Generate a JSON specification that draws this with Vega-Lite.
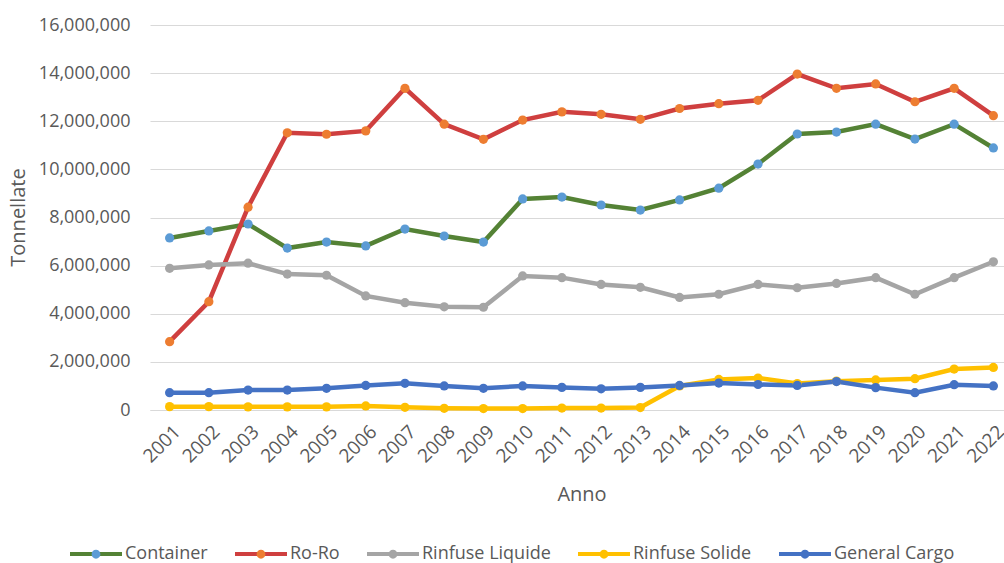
{
  "$schema": "https://vega.github.io/schema/vega-lite/v6.json",
  "width": 863,
  "height": 385,
  "autosize": {"type": "none"},
  "padding": {"left": 150, "top": 25, "right": 0, "bottom": 153},
  "background": "white",
  "config": {
    "view": {"stroke": null},
    "font": "Open Sans"
  },
  "data": {
    "values": [
      {"anno": "2001", "tipo": "Container", "valore": 7150000},
      {"anno": "2002", "tipo": "Container", "valore": 7440000},
      {"anno": "2003", "tipo": "Container", "valore": 7730000},
      {"anno": "2004", "tipo": "Container", "valore": 6730000},
      {"anno": "2005", "tipo": "Container", "valore": 6980000},
      {"anno": "2006", "tipo": "Container", "valore": 6820000},
      {"anno": "2007", "tipo": "Container", "valore": 7520000},
      {"anno": "2008", "tipo": "Container", "valore": 7230000},
      {"anno": "2009", "tipo": "Container", "valore": 6980000},
      {"anno": "2010", "tipo": "Container", "valore": 8770000},
      {"anno": "2011", "tipo": "Container", "valore": 8850000},
      {"anno": "2012", "tipo": "Container", "valore": 8520000},
      {"anno": "2013", "tipo": "Container", "valore": 8310000},
      {"anno": "2014", "tipo": "Container", "valore": 8730000},
      {"anno": "2015", "tipo": "Container", "valore": 9220000},
      {"anno": "2016", "tipo": "Container", "valore": 10220000},
      {"anno": "2017", "tipo": "Container", "valore": 11470000},
      {"anno": "2018", "tipo": "Container", "valore": 11550000},
      {"anno": "2019", "tipo": "Container", "valore": 11880000},
      {"anno": "2020", "tipo": "Container", "valore": 11260000},
      {"anno": "2021", "tipo": "Container", "valore": 11880000},
      {"anno": "2022", "tipo": "Container", "valore": 10890000},
      {"anno": "2001", "tipo": "Ro-Ro", "valore": 2840000},
      {"anno": "2002", "tipo": "Ro-Ro", "valore": 4500000},
      {"anno": "2003", "tipo": "Ro-Ro", "valore": 8430000},
      {"anno": "2004", "tipo": "Ro-Ro", "valore": 11520000},
      {"anno": "2005", "tipo": "Ro-Ro", "valore": 11460000},
      {"anno": "2006", "tipo": "Ro-Ro", "valore": 11600000},
      {"anno": "2007", "tipo": "Ro-Ro", "valore": 13370000},
      {"anno": "2008", "tipo": "Ro-Ro", "valore": 11880000},
      {"anno": "2009", "tipo": "Ro-Ro", "valore": 11250000},
      {"anno": "2010", "tipo": "Ro-Ro", "valore": 12050000},
      {"anno": "2011", "tipo": "Ro-Ro", "valore": 12390000},
      {"anno": "2012", "tipo": "Ro-Ro", "valore": 12290000},
      {"anno": "2013", "tipo": "Ro-Ro", "valore": 12080000},
      {"anno": "2014", "tipo": "Ro-Ro", "valore": 12530000},
      {"anno": "2015", "tipo": "Ro-Ro", "valore": 12730000},
      {"anno": "2016", "tipo": "Ro-Ro", "valore": 12870000},
      {"anno": "2017", "tipo": "Ro-Ro", "valore": 13960000},
      {"anno": "2018", "tipo": "Ro-Ro", "valore": 13370000},
      {"anno": "2019", "tipo": "Ro-Ro", "valore": 13550000},
      {"anno": "2020", "tipo": "Ro-Ro", "valore": 12810000},
      {"anno": "2021", "tipo": "Ro-Ro", "valore": 13370000},
      {"anno": "2022", "tipo": "Ro-Ro", "valore": 12230000},
      {"anno": "2001", "tipo": "Rinfuse Liquide", "valore": 5890000},
      {"anno": "2002", "tipo": "Rinfuse Liquide", "valore": 6030000},
      {"anno": "2003", "tipo": "Rinfuse Liquide", "valore": 6100000},
      {"anno": "2004", "tipo": "Rinfuse Liquide", "valore": 5650000},
      {"anno": "2005", "tipo": "Rinfuse Liquide", "valore": 5600000},
      {"anno": "2006", "tipo": "Rinfuse Liquide", "valore": 4740000},
      {"anno": "2007", "tipo": "Rinfuse Liquide", "valore": 4460000},
      {"anno": "2008", "tipo": "Rinfuse Liquide", "valore": 4290000},
      {"anno": "2009", "tipo": "Rinfuse Liquide", "valore": 4270000},
      {"anno": "2010", "tipo": "Rinfuse Liquide", "valore": 5570000},
      {"anno": "2011", "tipo": "Rinfuse Liquide", "valore": 5500000},
      {"anno": "2012", "tipo": "Rinfuse Liquide", "valore": 5220000},
      {"anno": "2013", "tipo": "Rinfuse Liquide", "valore": 5100000},
      {"anno": "2014", "tipo": "Rinfuse Liquide", "valore": 4680000},
      {"anno": "2015", "tipo": "Rinfuse Liquide", "valore": 4810000},
      {"anno": "2016", "tipo": "Rinfuse Liquide", "valore": 5220000},
      {"anno": "2017", "tipo": "Rinfuse Liquide", "valore": 5080000},
      {"anno": "2018", "tipo": "Rinfuse Liquide", "valore": 5260000},
      {"anno": "2019", "tipo": "Rinfuse Liquide", "valore": 5500000},
      {"anno": "2020", "tipo": "Rinfuse Liquide", "valore": 4810000},
      {"anno": "2021", "tipo": "Rinfuse Liquide", "valore": 5500000},
      {"anno": "2022", "tipo": "Rinfuse Liquide", "valore": 6160000},
      {"anno": "2001", "tipo": "Rinfuse Solide", "valore": 140000},
      {"anno": "2002", "tipo": "Rinfuse Solide", "valore": 140000},
      {"anno": "2003", "tipo": "Rinfuse Solide", "valore": 130000},
      {"anno": "2004", "tipo": "Rinfuse Solide", "valore": 130000},
      {"anno": "2005", "tipo": "Rinfuse Solide", "valore": 130000},
      {"anno": "2006", "tipo": "Rinfuse Solide", "valore": 170000},
      {"anno": "2007", "tipo": "Rinfuse Solide", "valore": 110000},
      {"anno": "2008", "tipo": "Rinfuse Solide", "valore": 70000},
      {"anno": "2009", "tipo": "Rinfuse Solide", "valore": 60000},
      {"anno": "2010", "tipo": "Rinfuse Solide", "valore": 60000},
      {"anno": "2011", "tipo": "Rinfuse Solide", "valore": 80000},
      {"anno": "2012", "tipo": "Rinfuse Solide", "valore": 80000},
      {"anno": "2013", "tipo": "Rinfuse Solide", "valore": 100000},
      {"anno": "2014", "tipo": "Rinfuse Solide", "valore": 1000000},
      {"anno": "2015", "tipo": "Rinfuse Solide", "valore": 1270000},
      {"anno": "2016", "tipo": "Rinfuse Solide", "valore": 1330000},
      {"anno": "2017", "tipo": "Rinfuse Solide", "valore": 1100000},
      {"anno": "2018", "tipo": "Rinfuse Solide", "valore": 1200000},
      {"anno": "2019", "tipo": "Rinfuse Solide", "valore": 1250000},
      {"anno": "2020", "tipo": "Rinfuse Solide", "valore": 1300000},
      {"anno": "2021", "tipo": "Rinfuse Solide", "valore": 1700000},
      {"anno": "2022", "tipo": "Rinfuse Solide", "valore": 1770000},
      {"anno": "2001", "tipo": "General Cargo", "valore": 720000},
      {"anno": "2002", "tipo": "General Cargo", "valore": 720000},
      {"anno": "2003", "tipo": "General Cargo", "valore": 830000},
      {"anno": "2004", "tipo": "General Cargo", "valore": 830000},
      {"anno": "2005", "tipo": "General Cargo", "valore": 900000},
      {"anno": "2006", "tipo": "General Cargo", "valore": 1020000},
      {"anno": "2007", "tipo": "General Cargo", "valore": 1110000},
      {"anno": "2008", "tipo": "General Cargo", "valore": 1000000},
      {"anno": "2009", "tipo": "General Cargo", "valore": 900000},
      {"anno": "2010", "tipo": "General Cargo", "valore": 1000000},
      {"anno": "2011", "tipo": "General Cargo", "valore": 940000},
      {"anno": "2012", "tipo": "General Cargo", "valore": 880000},
      {"anno": "2013", "tipo": "General Cargo", "valore": 940000},
      {"anno": "2014", "tipo": "General Cargo", "valore": 1020000},
      {"anno": "2015", "tipo": "General Cargo", "valore": 1120000},
      {"anno": "2016", "tipo": "General Cargo", "valore": 1060000},
      {"anno": "2017", "tipo": "General Cargo", "valore": 1020000},
      {"anno": "2018", "tipo": "General Cargo", "valore": 1180000},
      {"anno": "2019", "tipo": "General Cargo", "valore": 930000},
      {"anno": "2020", "tipo": "General Cargo", "valore": 720000},
      {"anno": "2021", "tipo": "General Cargo", "valore": 1050000},
      {"anno": "2022", "tipo": "General Cargo", "valore": 1000000}
    ]
  },
  "layer": [
    {
      "mark": {"type": "line", "strokeWidth": 4.5},
      "encoding": {
        "x": {
          "field": "anno", "type": "ordinal",
          "scale": {"type": "point", "padding": 0.5},
          "axis": {
            "title": "Anno", "labelAngle": -45, "labelFontSize": 19, "labelColor": "#595959",
            "ticks": false, "domain": true, "domainColor": "#D9D9D9", "domainWidth": 1,
            "labelPadding": 12, "labelOffset": 1, "grid": false,
            "titleFontSize": 20, "titleColor": "#595959", "titleFontWeight": "normal",
            "titleY": 84, "titleBaseline": "middle"
          }
        },
        "y": {
          "field": "valore", "type": "quantitative",
          "scale": {"domain": [0, 16000000], "nice": false},
          "axis": {
            "title": "Tonnellate",
            "values": [0, 2000000, 4000000, 6000000, 8000000, 10000000, 12000000, 14000000, 16000000],
            "format": ",.0f", "labelFontSize": 18, "labelColor": "#595959",
            "ticks": false, "domain": false, "labelPadding": 20,
            "grid": true, "gridColor": "#D9D9D9", "gridWidth": 1,
            "titleFontSize": 20, "titleColor": "#595959", "titleFontWeight": "normal",
            "titleX": -132, "titleY": 192, "titleAngle": -90, "titleBaseline": "middle", "titleAlign": "center"
          }
        },
        "color": {
          "field": "tipo", "type": "nominal",
          "scale": {
            "domain": ["Container", "Ro-Ro", "Rinfuse Liquide", "Rinfuse Solide", "General Cargo"],
            "range": ["#548235", "#CF3F3F", "#A5A5A5", "#FFC000", "#4472C4"]
          },
          "legend": {
            "orient": "none", "legendX": -82, "legendY": 501, "direction": "horizontal", "columns": 5,
            "title": null, "symbolType": "stroke", "symbolSize": 2704, "symbolStrokeWidth": 4,
            "labelFontSize": 18, "labelColor": "#595959", "labelOffset": 1, "columnPadding": 19
          }
        }
      }
    },
    {
      "mark": {"type": "point", "filled": true, "size": 85, "opacity": 1},
      "encoding": {
        "x": {"field": "anno", "type": "ordinal", "scale": {"type": "point", "padding": 0.5}},
        "y": {"field": "valore", "type": "quantitative"},
        "fill": {
          "field": "tipo", "type": "nominal",
          "sort": ["Container", "Ro-Ro", "Rinfuse Liquide", "Rinfuse Solide", "General Cargo"],
          "scale": {
            "range": ["#5B9BD5", "#ED7D31", "#A5A5A5", "#FFC000", "#4472C4"]
          },
          "legend": {
            "orient": "none", "legendX": -82, "legendY": 501, "direction": "horizontal", "columns": 5,
            "title": null,
            "symbolType": "M-1,0L1,0M-0.17,0A0.17,0.17,0,1,1,0.17,0A0.17,0.17,0,1,1,-0.17,0Z",
            "symbolSize": 2704, "symbolStrokeWidth": 4, "symbolStrokeColor": "transparent",
            "labelFontSize": 18, "labelColor": "#595959", "labelOpacity": 0, "labelOffset": 1, "columnPadding": 19
          }
        }
      }
    }
  ]
}
